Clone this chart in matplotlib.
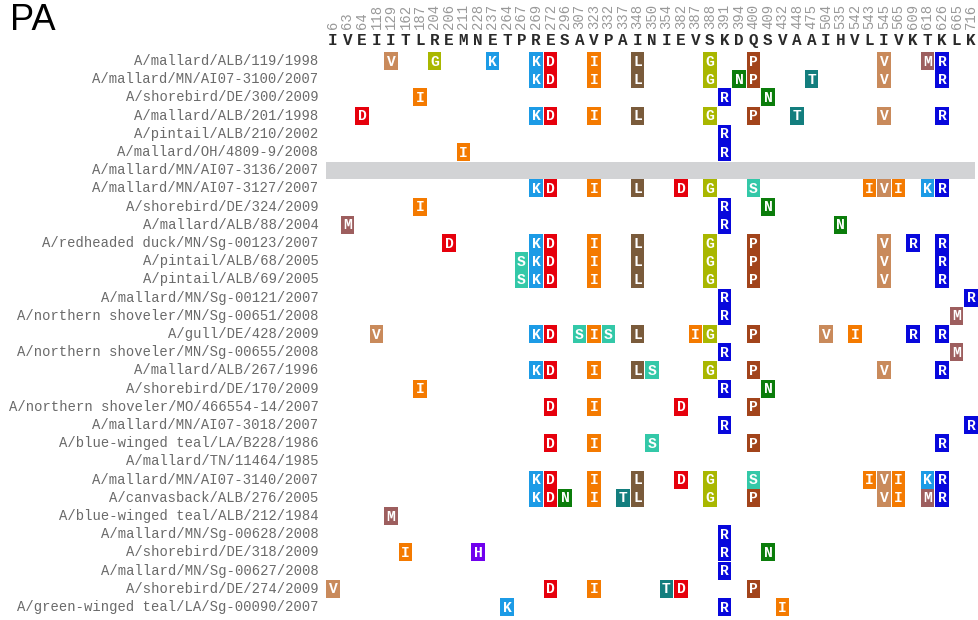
import matplotlib
matplotlib.use("Agg")
import matplotlib.pyplot as plt
from matplotlib.patches import Rectangle

# PA residue positions and the consensus residue at each
positions = [6, 63, 64, 118, 129, 162, 187, 204, 206, 211, 228, 237, 264, 267, 269,
             272, 296, 307, 323, 332, 337, 348, 350, 354, 382, 387, 388, 391, 394, 400,
             409, 432, 448, 475, 504, 535, 542, 543, 545, 565, 609, 618, 626, 665, 716]
consensus = list("IVEIITLREMNETPRESAVPAINIEVSKDQSVAAIHVLIVKTKLK")

strains = [
    "A/mallard/ALB/119/1998",
    "A/mallard/MN/AI07-3100/2007",
    "A/shorebird/DE/300/2009",
    "A/mallard/ALB/201/1998",
    "A/pintail/ALB/210/2002",
    "A/mallard/OH/4809-9/2008",
    "A/mallard/MN/AI07-3136/2007",
    "A/mallard/MN/AI07-3127/2007",
    "A/shorebird/DE/324/2009",
    "A/mallard/ALB/88/2004",
    "A/redheaded duck/MN/Sg-00123/2007",
    "A/pintail/ALB/68/2005",
    "A/pintail/ALB/69/2005",
    "A/mallard/MN/Sg-00121/2007",
    "A/northern shoveler/MN/Sg-00651/2008",
    "A/gull/DE/428/2009",
    "A/northern shoveler/MN/Sg-00655/2008",
    "A/mallard/ALB/267/1996",
    "A/shorebird/DE/170/2009",
    "A/northern shoveler/MO/466554-14/2007",
    "A/mallard/MN/AI07-3018/2007",
    "A/blue-winged teal/LA/B228/1986",
    "A/mallard/TN/11464/1985",
    "A/mallard/MN/AI07-3140/2007",
    "A/canvasback/ALB/276/2005",
    "A/blue-winged teal/ALB/212/1984",
    "A/mallard/MN/Sg-00628/2008",
    "A/shorebird/DE/318/2009",
    "A/mallard/MN/Sg-00627/2008",
    "A/shorebird/DE/274/2009",
    "A/green-winged teal/LA/Sg-00090/2007",
]

# substitutions per strain, written as position + residue
mutations = [
    "129V 204G 237K 269K 272D 323I 348L 388G 400P 545V 618M 626R",
    "269K 272D 323I 348L 388G 394N 400P 475T 545V 626R",
    "187I 391R 409N",
    "64D 269K 272D 323I 348L 388G 400P 448T 545V 626R",
    "391R",
    "211I 391R",
    "",
    "269K 272D 323I 348L 382D 388G 400S 543I 545V 565I 618K 626R",
    "187I 391R 409N",
    "63M 391R 535N",
    "206D 269K 272D 323I 348L 388G 400P 545V 609R 626R",
    "267S 269K 272D 323I 348L 388G 400P 545V 626R",
    "267S 269K 272D 323I 348L 388G 400P 545V 626R",
    "391R 716R",
    "391R 665M",
    "118V 269K 272D 307S 323I 332S 348L 387I 388G 400P 504V 542I 609R 626R",
    "391R 665M",
    "269K 272D 323I 348L 350S 388G 400P 545V 626R",
    "187I 391R 409N",
    "272D 323I 382D 400P",
    "391R 716R",
    "272D 323I 350S 400P 626R",
    "",
    "269K 272D 323I 348L 382D 388G 400S 543I 545V 565I 618K 626R",
    "269K 272D 296N 323I 337T 348L 388G 400P 545V 565I 618M 626R",
    "129M",
    "391R",
    "162I 228H 391R 409N",
    "391R",
    "6V 272D 323I 354T 382D 400P",
    "264K 391R 432I",
]

highlight = "A/mallard/MN/AI07-3136/2007"

aa_colors = {
    "V": "#c98a5b", "G": "#a9b700", "K": "#1c9be6", "D": "#e6000c",
    "I": "#f47a00", "L": "#7a5b3b", "P": "#a2441b", "M": "#9d5e5e",
    "R": "#0808dc", "N": "#0b7d0b", "T": "#137e7e", "S": "#33c8a8",
    "H": "#7000ee",
}

MONO = "Liberation Mono"
W, H = 979, 620
x0, dx = 333.0, 14.5      # pixel centre of first column, column pitch
y0, dy = 61.0, 18.2       # pixel centre of first row, row pitch

fig = plt.figure(figsize=(W / 100, H / 100), dpi=100)
ncol, nrow = len(positions), len(strains)
left = (x0 - dx / 2) / W
right = (x0 + dx * (ncol - 0.5)) / W
top = 1 - (y0 - dy / 2) / H
bottom = 1 - (y0 + dy * (nrow - 0.5)) / H
ax = fig.add_axes([left, bottom, right - left, top - bottom])
ax.set_xlim(-0.5, ncol - 0.5)
ax.set_ylim(nrow - 0.5, -0.5)
ax.axis("off")

col_of = {p: i for i, p in enumerate(positions)}

# position numbers (rotated) and consensus letters
for i, (p, c) in enumerate(zip(positions, consensus)):
    ax.text(i, (29 - y0) / dy, str(p), rotation=90, ha="center", va="bottom",
            fontsize=10, family=MONO, color="#999999", clip_on=False)
    ax.text(i, (40.5 - y0) / dy, c, ha="center", va="center", fontsize=11.5,
            family=MONO, fontweight="bold", color="#2a2a2a", clip_on=False)

for r, (name, muts) in enumerate(zip(strains, mutations)):
    if name == highlight:
        ax.add_patch(Rectangle((-0.5, r - 0.47), (975 - x0) / dx + 0.5, 0.94,
                               facecolor="#d2d3d5", edgecolor="none", clip_on=False))
    ax.text((318.5 - x0) / dx, r, name, ha="right", va="center", fontsize=10,
            family=MONO, color="#6a6a6a", clip_on=False)
    for m in muts.split():
        pos, aa = int(m[:-1]), m[-1]
        c = col_of[pos]
        ax.add_patch(Rectangle((c - 0.47, r - 0.49), 0.94, 0.98,
                               facecolor=aa_colors[aa], edgecolor="none"))
        ax.text(c, r + 0.03, aa, ha="center", va="center", fontsize=10.5,
                family=MONO, fontweight="bold", color="white")

fig.text(10 / W, 1 - 3 / H, "PA", ha="left", va="top", fontsize=26,
         family="Liberation Sans", color="black")

fig.savefig("out.png", dpi=100)
